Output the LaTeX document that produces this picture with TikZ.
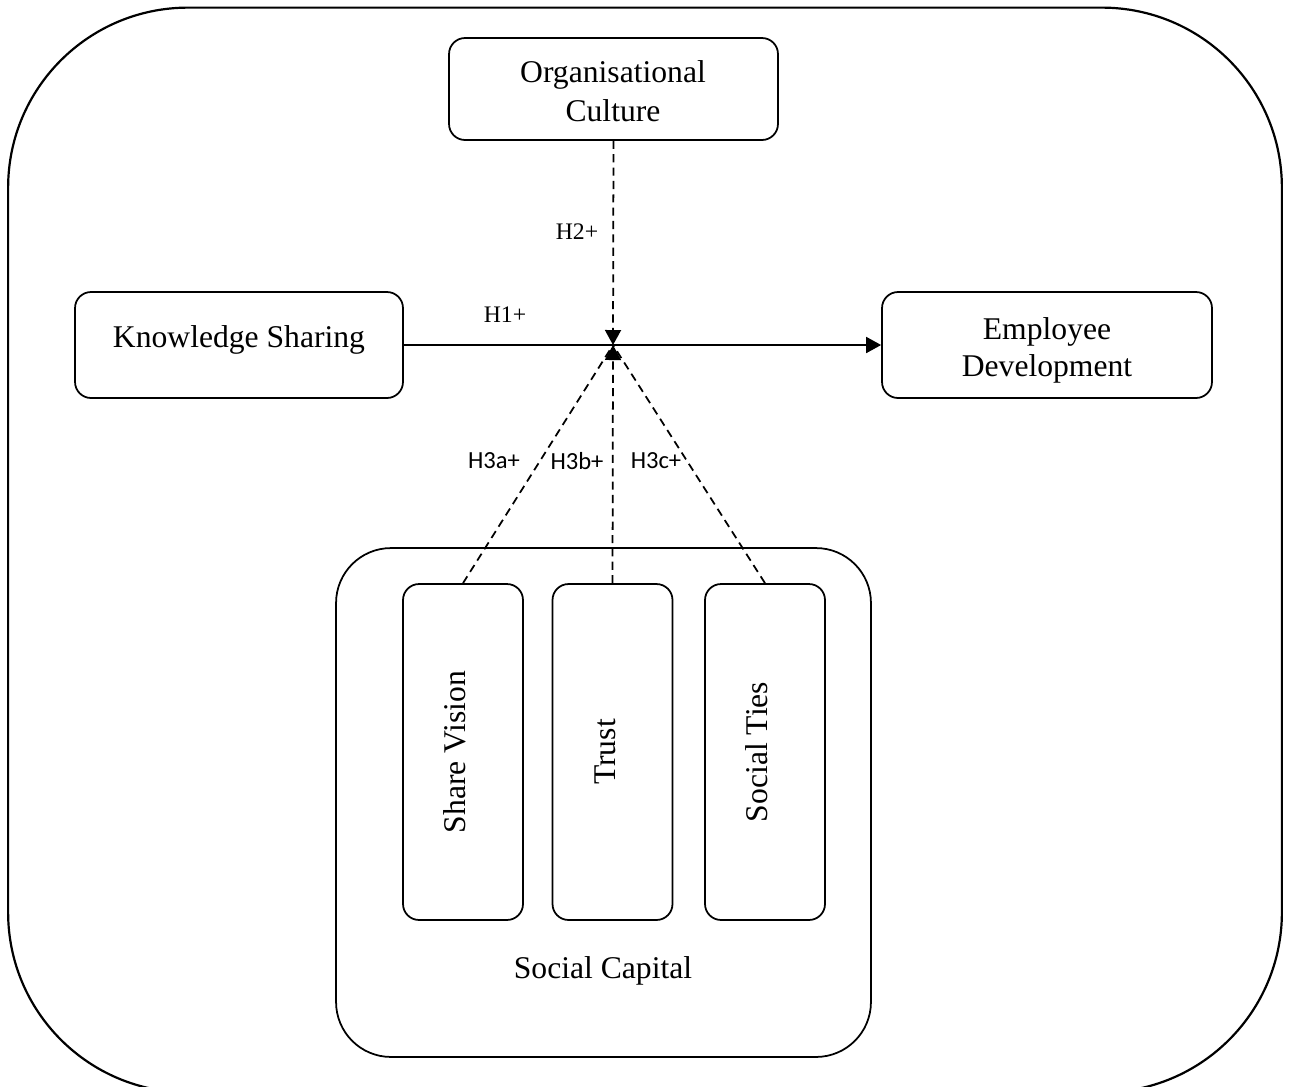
\documentclass[tikz,border=0pt]{standalone}
\usepackage{fontspec}
\setmainfont{Liberation Serif}
\newfontfamily\calib{Carlito}
\usetikzlibrary{arrows.meta}
\begin{document}
\begin{tikzpicture}[x=0.02cm,y=-0.02cm,
  box/.style={draw, line width=1pt, rounded corners=0.32cm, inner sep=0pt},
  txt/.style={font=\fontsize{18}{21.6}\selectfont, inner sep=0pt, anchor=base},
  vbox/.style={box, rotate=90, minimum width=6.72cm, minimum height=2.4cm,
    font=\fontsize{18}{21.6}\selectfont, text height=12pt, text depth=9pt},
  dsh/.style={line width=1pt, dash pattern=on 4.6pt off 3pt},
  tipx/.style={-{Triangle[length=0.3cm,width=0.32cm]}},
  lbl/.style={font=\fontsize{13.5}{16}\selectfont, inner sep=0pt},
  clbl/.style={font=\calib\fontsize{14}{16}\selectfont, inner sep=0pt}]
\useasboundingbox (0,0) rectangle (1290,1086);
\node[draw, line width=1.25pt, rounded corners=3.6cm, minimum width=25.48cm,
  minimum height=21.7cm, inner sep=0pt] (frame) at (645,550) {};
% boxes
\node[box, minimum width=6.58cm, minimum height=2.04cm] (oc) at (613.5,89) {};
\node[box, minimum width=6.56cm, minimum height=2.12cm] (ks) at (239,345) {};
\node[box, minimum width=6.6cm, minimum height=2.12cm] (ed) at (1047,345) {};
\node[box, rounded corners=1.1cm, minimum width=10.7cm, minimum height=10.18cm] (sc) at (603.5,802.5) {};
\node[vbox] (sv) at (463,752) {Share Vision};
\node[vbox] (tr) at (612.5,752) {Trust};
\node[vbox] (st) at (765,752) {Social Ties};
% box texts
\node[txt] (oct1) at (613,82) {Organisational};
\node[txt] (oct2) at (613,121) {Culture};
\node[txt] (kst) at (239,347) {Knowledge Sharing};
\node[txt] (edt1) at (1047,339) {Employee};
\node[txt] (edt2) at (1047,376) {Development};
\node[txt] (sclabel) at (603,978) {Social Capital};
% connectors
\coordinate (j) at (613,345);
\draw[line width=1pt, tipx] (ks.east) -- (ed.west);
\draw[dsh, tipx] (oc.south) -- (j);
\draw[dsh, tipx] (tr.east) -- (j);
\draw[dsh] (sv.east) -- (j);
\draw[dsh] (st.east) -- (j);
% labels
\node[lbl] (h2) at (577,232) {H2+};
\node[lbl] (h1) at (505,315) {H1+};
\node[clbl] (h3a) at (494,461) {H3a+};
\node[clbl] (h3b) at (577,461) {H3b+};
\node[clbl] (h3c) at (656,461) {H3c+};
\end{tikzpicture}
\end{document}
